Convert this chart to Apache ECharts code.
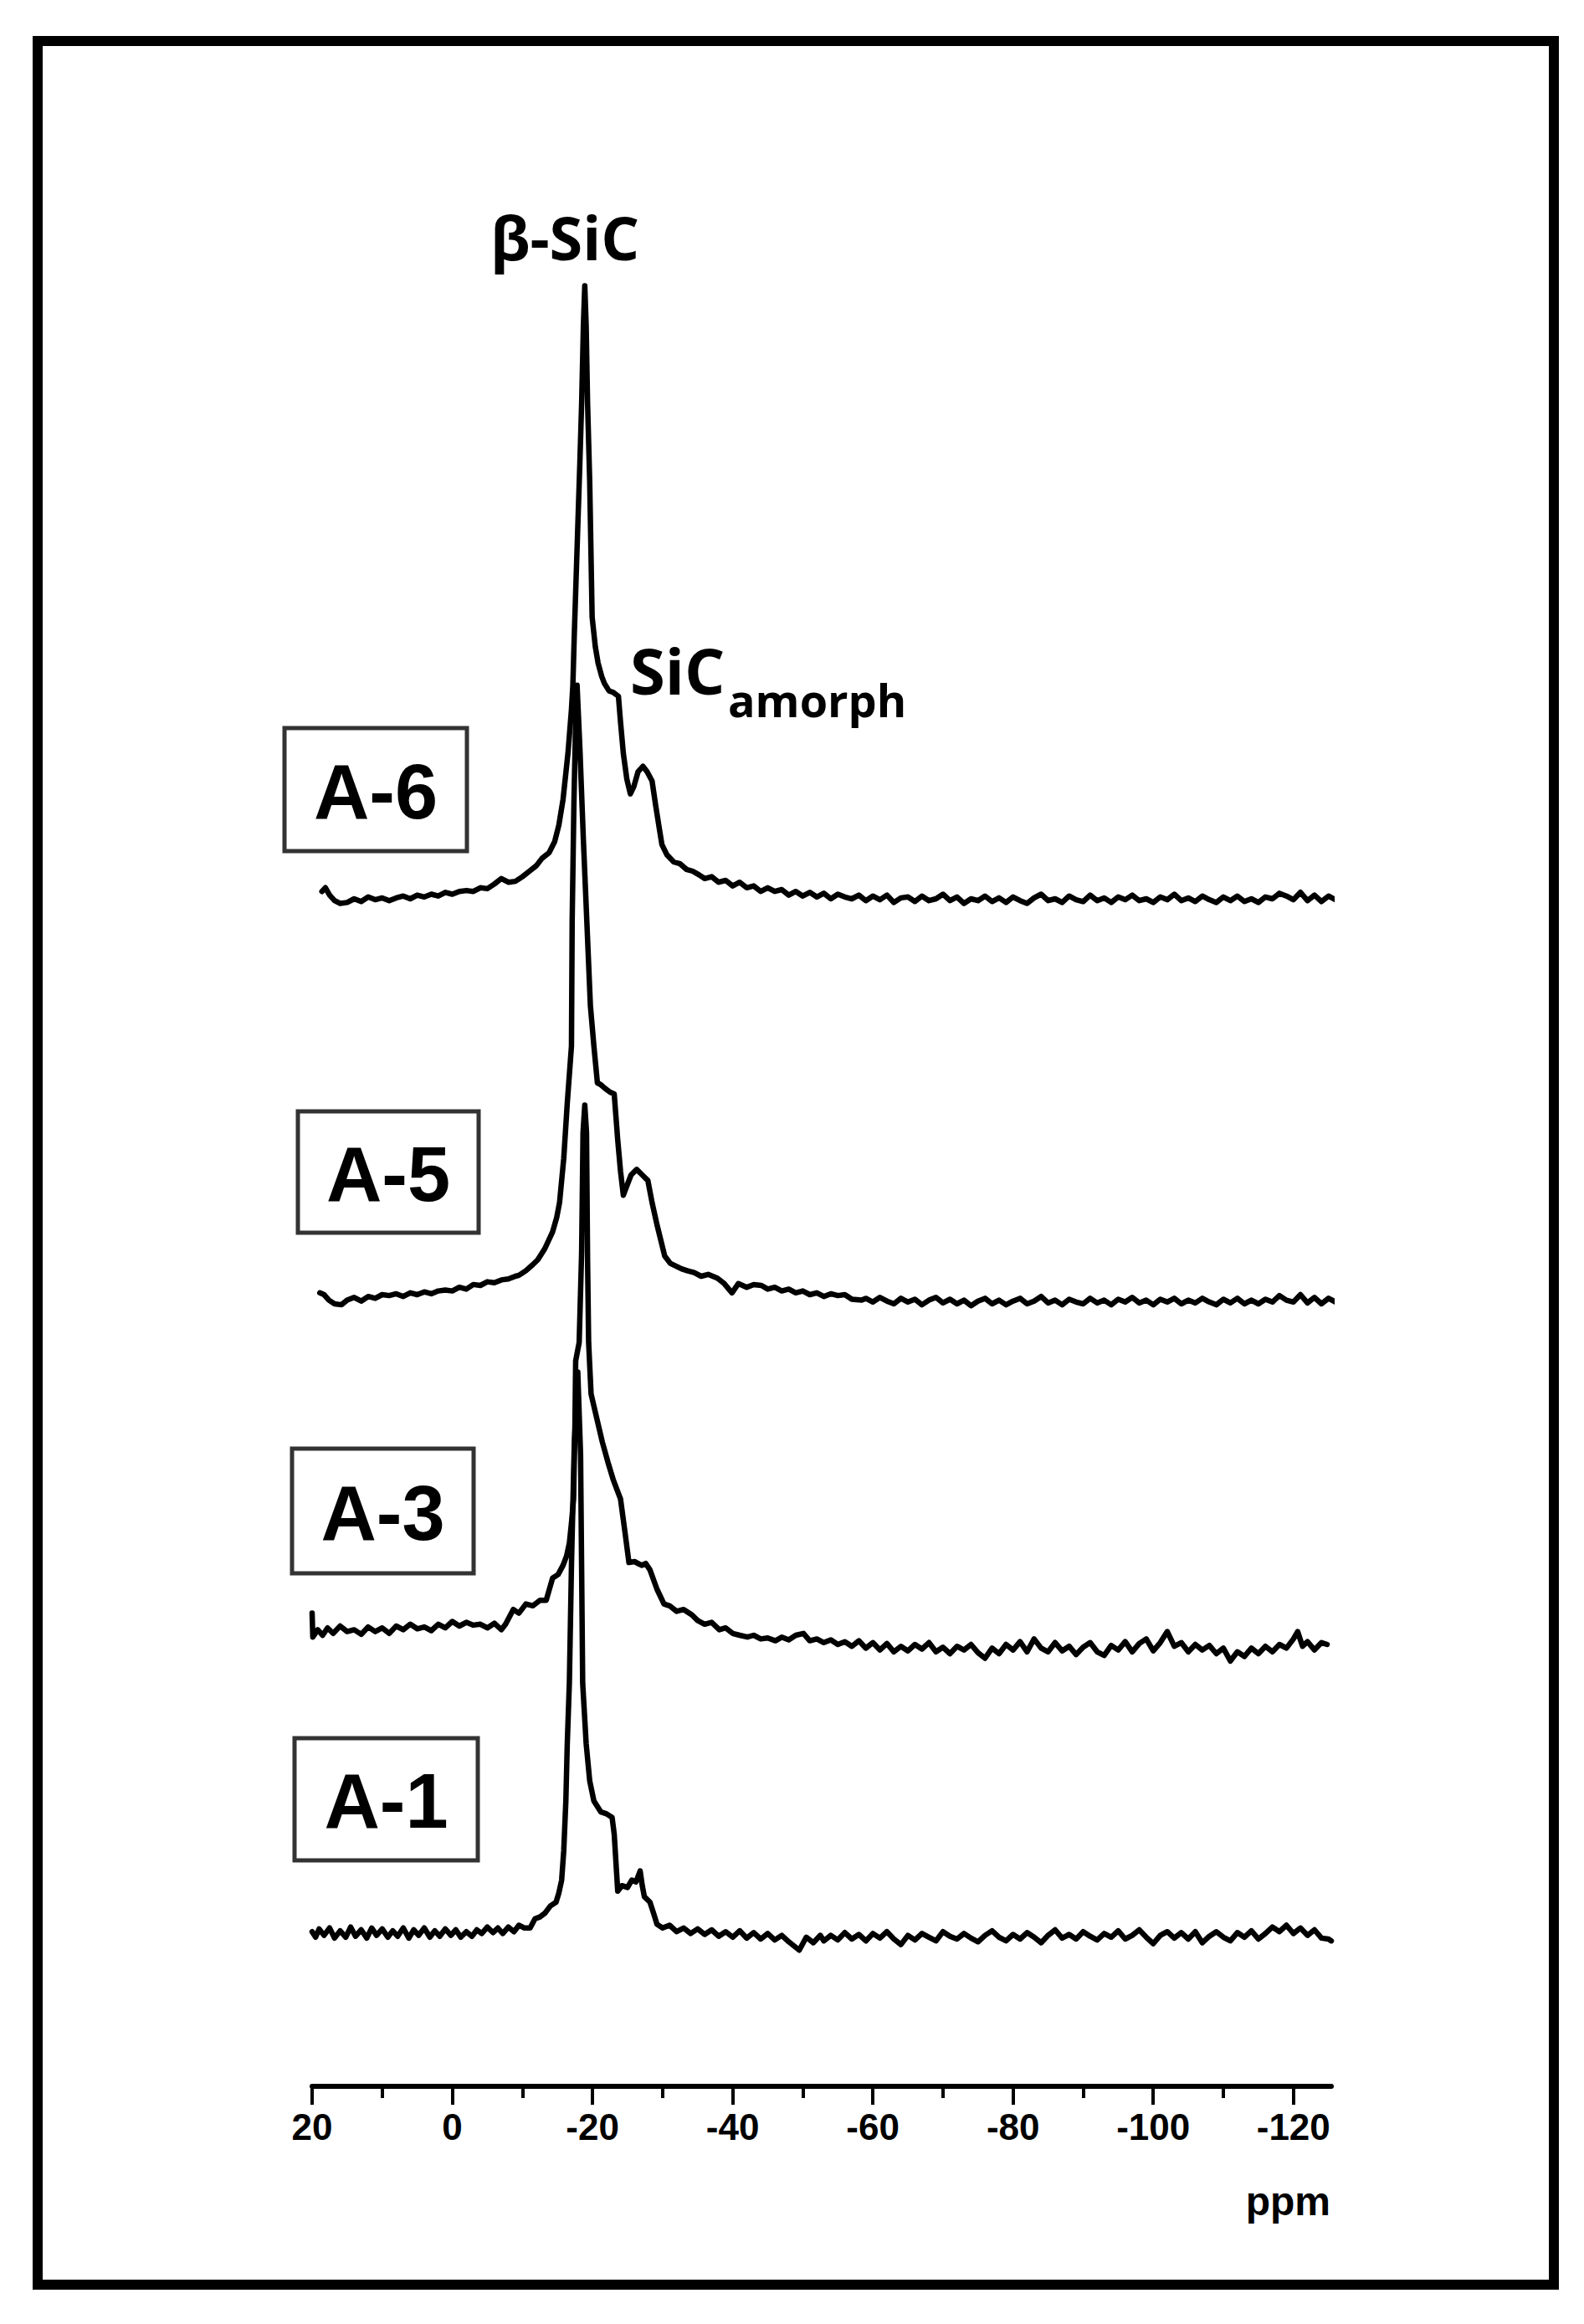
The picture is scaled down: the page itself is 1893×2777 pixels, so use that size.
<!DOCTYPE html>
<html>
<head>
<meta charset="utf-8">
<title>29Si MAS NMR spectra</title>
<script src="https://cdn.jsdelivr.net/npm/echarts@6/dist/echarts.min.js"></script>
<style>
  html, body { margin: 0; padding: 0; background: #fff; }
  #chart { width: 1893px; height: 2777px; }
</style>
</head>
<body>
<div id="chart"></div>
<script>
// samples from bottom to top
const samples = ["A-1", "A-3", "A-5", "A-6"];
// vertical stacking offset of each spectrum (a.u.)
const offsets = [8.3, 23.8, 42.7, 64.6];
const majorTicks = [20, 0, -20, -40, -60, -80, -100, -120];
const minorTicks = [10, -10, -30, -50, -70, -90, -110];

// [ppm, intensity above own baseline]
const a1 = [[20,0.1],[19.5,-0.2],[19,0.25],[18.3,-0.1],[17.5,0.3],[16.8,-0.25],[16,0.15],[15.2,-0.2],[14.5,0.35],[13.8,-0.15],[13,0.2],[12.2,-0.25],[11.5,0.3],[10.8,-0.1],[10,0.25],[9.2,-0.2],[8.5,0.15],[7.8,-0.15],[7,0.3],[6.2,-0.25],[5.5,0.2],[4.8,-0.1],[4,0.3],[3.2,-0.2],[2.5,0.15],[1.8,-0.15],[1,0.25],[0.2,-0.1],[-0.5,0.2],[-1.2,-0.2],[-2,0.1],[-2.8,-0.15],[-3.5,0.2],[-4.2,0],[-5,0.35],[-5.8,0.05],[-6.5,0.3],[-7.2,0],[-8,0.35],[-8.8,0.1],[-9.5,0.45],[-10.3,0.3],[-11.1,0.3],[-11.8,0.8],[-12.5,0.9],[-13.2,1.1],[-14,1.5],[-14.8,1.7],[-15.2,2.2],[-15.6,2.9],[-15.9,4.5],[-16.2,7.2],[-16.4,10.3],[-16.7,13.6],[-17,20],[-17.4,26.5],[-17.9,30.5],[-18.3,26],[-18.6,13.6],[-19.1,10.3],[-19.6,8.3],[-20.2,7.2],[-21.2,6.6],[-22,6.5],[-22.8,6.3],[-23.1,5.4],[-23.6,2.3],[-24.2,2.6],[-25,2.5],[-25.6,2.9],[-26.2,2.8],[-26.8,3.4],[-27.1,2.6],[-27.4,2],[-28.2,1.7],[-28.8,1],[-29.2,0.5],[-30,0.3],[-31,0.45],[-32,0.1],[-33,0.3],[-34,0],[-35,0.25],[-36,-0.05],[-37,0.2],[-38,-0.15],[-39,0.1],[-40,-0.2],[-41,0.15],[-42,-0.25],[-43,0.05],[-44,-0.3],[-45,0],[-46,-0.35],[-47,-0.1],[-48,-0.45],[-49.5,-0.9],[-50.5,-0.2],[-51.5,-0.5],[-52.5,-0.1],[-53,-0.4],[-54,-0.1],[-55,-0.35],[-56,0.05],[-57,-0.3],[-58,-0.05],[-59,-0.4],[-60,0],[-61,-0.25],[-62,0.1],[-63,-0.3],[-64,-0.6],[-65,-0.1],[-66,-0.35],[-67,0],[-68,-0.2],[-69,-0.4],[-70,0.1],[-71,-0.15],[-72,-0.3],[-73,0],[-74,-0.25],[-75,-0.45],[-76,-0.1],[-77,0.15],[-78,-0.2],[-79,-0.4],[-80,-0.05],[-81,-0.3],[-82,0.05],[-83,-0.2],[-84,-0.5],[-85,-0.1],[-86,0.2],[-87,-0.25],[-88,-0.05],[-89,-0.3],[-90,0.1],[-91,-0.15],[-92,-0.35],[-93,0],[-94,-0.2],[-95,0.15],[-96,-0.3],[-97,-0.1],[-98,0.2],[-99,-0.2],[-100,-0.55],[-101,-0.1],[-102,0.1],[-103,-0.25],[-104,0.05],[-105,-0.3],[-106,0.1],[-107,-0.5],[-108,-0.15],[-109,0.1],[-110,-0.2],[-111,-0.4],[-112,0.05],[-113,-0.2],[-114,0.15],[-115,-0.3],[-116,0],[-117,0.35],[-118,0.1],[-119,0.45],[-120,0],[-121,0.3],[-122,-0.1],[-123,0.2],[-124,-0.25],[-125,-0.3],[-125.4,-0.4]];

const a3 = [[20,1.9],[19.9,0.6],[19.2,1],[18.5,0.7],[17.8,1.1],[17,0.8],[16,1.2],[15,0.9],[14,1],[13,0.75],[12,1.15],[11,0.9],[10,1.1],[9,0.8],[8,1.2],[7,1],[6,1.3],[5,1.05],[4,1.15],[3,0.95],[2,1.3],[1,1.1],[0,1.45],[-1,1.2],[-2,1.4],[-3,1.25],[-4,1.3],[-5,1.1],[-6,1.35],[-7,1],[-7.6,1.3],[-8.7,2.1],[-9.5,1.9],[-10.5,2.4],[-11.5,2.3],[-12.5,2.6],[-13.4,2.6],[-14.3,3.8],[-15.1,4],[-15.8,4.5],[-16.3,5],[-16.7,5.7],[-17,6.8],[-17.3,8.1],[-17.5,12.2],[-17.6,15.6],[-18.1,16.6],[-18.45,21.5],[-18.65,28],[-18.9,29.5],[-19.15,28],[-19.3,21],[-19.45,16.6],[-19.8,13.8],[-20.6,12.5],[-21.4,11.2],[-22.2,10.1],[-23,9.1],[-24,8.1],[-24.6,6.4],[-25.2,4.65],[-26,4.7],[-27,4.5],[-27.6,4.6],[-28.2,4.25],[-29.2,3.2],[-30.2,2.4],[-31,2.3],[-32,2],[-33,2.1],[-34.2,1.8],[-35,1.5],[-36,1.3],[-37,1.4],[-38.1,1],[-39,1.1],[-40,0.8],[-41,0.7],[-42.1,0.6],[-43,0.7],[-44,0.5],[-45,0.55],[-46.1,0.4],[-47,0.6],[-48,0.45],[-49,0.7],[-50.1,0.8],[-51,0.4],[-52,0.5],[-53,0.3],[-54,0.45],[-55,0.2],[-56,0.35],[-57,0.1],[-58,0.4],[-59,0],[-60,0.3],[-61,-0.1],[-62,0.25],[-63,-0.2],[-64,0.1],[-65,-0.15],[-66,0.2],[-67,-0.05],[-68,0.3],[-69,-0.2],[-70,0.05],[-71,-0.3],[-72,0.1],[-73,-0.1],[-74,0.2],[-75,-0.25],[-76,-0.55],[-77,0],[-78,-0.3],[-79,0.2],[-80,-0.1],[-81,0.35],[-82,-0.2],[-83,0.5],[-84,0],[-85,-0.2],[-86,0.3],[-87,-0.15],[-88,0.1],[-89,-0.35],[-90,0.05],[-91,0.3],[-92,-0.2],[-93,-0.4],[-94,0.15],[-95,-0.1],[-96,0.35],[-97,-0.2],[-98,0.25],[-99,0.5],[-100,-0.15],[-101,0.3],[-102,0.9],[-103,0.1],[-104,0.3],[-105,-0.2],[-106,0.2],[-107,-0.1],[-108,0.15],[-109,-0.3],[-110,0],[-111,-0.7],[-112,-0.2],[-113,-0.45],[-114,0],[-115,-0.3],[-116,0.1],[-117,-0.2],[-118,0.2],[-119,0],[-120,0.5],[-120.6,0.9],[-121.3,0.1],[-122,0.35],[-123,-0.1],[-124,0.3],[-124.8,0.2]];

const a5 = [[18.9,0.4],[18.3,0.3],[17.6,0],[16.8,-0.2],[15.8,-0.25],[15,0],[14,0.15],[13,-0.05],[12,0.2],[11,0.1],[10,0.3],[9,0.25],[8,0.35],[7,0.2],[6,0.4],[5,0.3],[4,0.45],[3,0.35],[2,0.5],[1,0.55],[0,0.5],[-1,0.7],[-2,0.6],[-3,0.85],[-4,0.8],[-5,1],[-6,0.95],[-7,1.1],[-8,1.15],[-9,1.3],[-9.5,1.35],[-10.5,1.6],[-11.4,1.9],[-12.2,2.2],[-13.2,2.8],[-14.3,3.7],[-14.9,4.5],[-15.3,5.3],[-15.9,7.7],[-16.4,10.7],[-17,13.8],[-17.1,20.6],[-17.35,27],[-17.6,31.5],[-17.8,33.4],[-18.2,30],[-18.7,25],[-19.2,20.5],[-19.7,16],[-20.2,13.8],[-20.7,11.8],[-21.2,11.7],[-21.8,11.5],[-22.5,11.3],[-23.1,11.2],[-23.6,8.7],[-24,7],[-24.4,5.7],[-24.9,6.2],[-25.5,6.8],[-26.3,7.1],[-27.1,6.8],[-27.9,6.5],[-28.5,5.3],[-29.2,4.1],[-30.3,2.4],[-31.1,2],[-31.9,1.85],[-32.7,1.7],[-33.5,1.6],[-34.5,1.5],[-35.5,1.3],[-36.5,1.4],[-37.8,1.2],[-38.8,0.9],[-39.9,0.4],[-40.8,0.9],[-42,0.7],[-43,0.85],[-44.1,0.8],[-45,0.6],[-46,0.7],[-47,0.5],[-48,0.6],[-49,0.4],[-50,0.5],[-51,0.3],[-52,0.4],[-53,0.2],[-54,0.35],[-55,0.25],[-56,0.3],[-57,0.05],[-58.4,0],[-59,0.1],[-60,-0.1],[-61,0.15],[-62,-0.05],[-63,-0.2],[-64,0.1],[-65,-0.1],[-66,0.05],[-67,-0.25],[-68,0],[-69,0.15],[-70,-0.15],[-71,0.05],[-72,-0.2],[-73,0],[-74,-0.3],[-75,-0.05],[-76,0.1],[-77,-0.2],[-78,0],[-79,-0.25],[-80,-0.05],[-81,0.1],[-82,-0.2],[-83,-0.05],[-84,0.2],[-85,-0.15],[-86,0],[-87,-0.25],[-88,0.05],[-89,-0.1],[-90,-0.2],[-91,0.1],[-92,-0.15],[-93,0],[-94,-0.25],[-95,0.05],[-96,-0.1],[-97,0.15],[-98,-0.15],[-99,0],[-100,-0.25],[-101,0.05],[-102,-0.1],[-103,0.1],[-104,-0.2],[-105,0],[-106,-0.15],[-107,0.1],[-108,-0.1],[-109,-0.25],[-110,0.05],[-111,-0.15],[-112,0.1],[-113,-0.2],[-114,0],[-115,-0.2],[-116,0.05],[-117,-0.1],[-118,0.25],[-119,0],[-120,-0.1],[-121,0.3],[-122,-0.15],[-123,0.15],[-124,-0.2],[-125,0.1],[-126,-0.1],[-126.5,0.05]];

const a6 = [[18.6,0.3],[18.1,0.5],[17.5,0.1],[16.8,-0.2],[16,-0.35],[15,-0.3],[14,-0.1],[13,-0.25],[12,0],[11,-0.15],[10,-0.05],[9,-0.2],[8,-0.05],[7,0.05],[6,-0.1],[5,0.1],[4,0],[3,0.15],[2,0.05],[1,0.25],[0,0.15],[-1,0.3],[-2,0.35],[-3,0.3],[-4,0.5],[-5,0.45],[-6,0.7],[-7,1],[-8,0.8],[-9,0.85],[-10,1.1],[-11,1.4],[-12,1.7],[-12.8,2.1],[-13.8,2.4],[-14.6,3],[-15.2,3.9],[-15.8,5.3],[-16.5,7.8],[-17,10.2],[-17.2,11.5],[-17.4,14.2],[-17.9,20.1],[-18.2,23.6],[-18.45,26.8],[-18.7,31],[-18.9,33.2],[-19.1,31],[-19.3,26.8],[-19.6,22.6],[-19.95,15.2],[-20.4,13.6],[-20.8,12.7],[-21.3,12],[-21.7,11.6],[-22.35,11.2],[-23,11.1],[-23.7,10.9],[-24,9.5],[-24.4,7.8],[-24.9,6.4],[-25.4,5.6],[-25.9,6],[-26.5,6.8],[-27.2,7.1],[-27.8,6.8],[-28.5,6.3],[-29,5],[-29.5,3.8],[-29.9,2.85],[-30.6,2.3],[-31.6,1.9],[-32.5,1.8],[-33.4,1.5],[-34.3,1.4],[-35.2,1.2],[-36,1],[-37,1.1],[-38,0.8],[-39,0.9],[-40,0.6],[-41,0.8],[-42,0.5],[-43,0.6],[-44,0.3],[-45,0.5],[-46,0.3],[-47,0.4],[-48,0.1],[-49,0.3],[-50,0.05],[-51,0.25],[-52,0],[-53,0.2],[-54,-0.1],[-55,0.15],[-56,0],[-57,-0.1],[-58,0.1],[-59,-0.2],[-60,0.05],[-61,-0.15],[-62,0.1],[-63,-0.3],[-64,-0.05],[-65,0],[-66,-0.25],[-67,0.05],[-68,-0.2],[-69,-0.1],[-70,0.15],[-71,-0.2],[-72,0],[-73,-0.35],[-74,-0.1],[-75,-0.2],[-76,0.05],[-77,-0.25],[-78,-0.05],[-79,-0.3],[-80,0],[-81,-0.2],[-82,-0.35],[-83,-0.05],[-84,0.15],[-85,-0.2],[-86,-0.1],[-87,-0.3],[-88,0.05],[-89,-0.15],[-90,-0.25],[-91,0.1],[-92,-0.2],[-93,-0.05],[-94,-0.3],[-95,0],[-96,-0.15],[-97,0.1],[-98,-0.2],[-99,-0.1],[-100,-0.3],[-101,0],[-102,-0.15],[-103,0.15],[-104,-0.2],[-105,-0.05],[-106,-0.25],[-107,0.05],[-108,-0.15],[-109,-0.3],[-110,0],[-111,-0.2],[-112,0.05],[-113,-0.25],[-114,-0.1],[-115,-0.3],[-116,0],[-117,-0.1],[-118,0.2],[-119,0.05],[-120,-0.15],[-121,0.25],[-122,-0.2],[-123,0.1],[-124,-0.25],[-125,0.05],[-126,-0.15],[-126.8,0]];

const traces = [a1, a3, a5, a6];

const chart = echarts.init(document.getElementById("chart"), null, { renderer: "svg" });

const tickFont = {
  fontFamily: "'Liberation Sans Narrow', 'Liberation Sans', Arial, sans-serif",
  fontWeight: "bold",
  fontSize: 44,
  color: "#000"
};

// sample label boxes (pixel layout)
const boxes = [
  { name: "A-1", x: 352, y: 2077, w: 219, h: 146 },
  { name: "A-3", x: 349, y: 1731, w: 217, h: 149 },
  { name: "A-5", x: 356, y: 1328, w: 216, h: 145 },
  { name: "A-6", x: 340, y: 870, w: 218, h: 147 }
];

const graphics = [
  {
    type: "rect",
    shape: { x: 45, y: 49, width: 1812, height: 2681 },
    style: { fill: "none", stroke: "#000", lineWidth: 12 },
    silent: true
  }
];
boxes.forEach((b) => {
  graphics.push({
    type: "rect",
    shape: { x: b.x, y: b.y, width: b.w, height: b.h },
    style: { fill: "#fff", stroke: "#333", lineWidth: 5 },
    z: 10
  });
  graphics.push({
    type: "text",
    x: b.x + b.w / 2,
    y: b.y + b.h / 2 + 2,
    style: {
      text: b.name,
      fontFamily: "'Liberation Sans', Arial, sans-serif",
      fontWeight: "bold",
      fontSize: 92,
      fill: "#000",
      align: "center",
      verticalAlign: "middle",
      textAlign: "center",
      textVerticalAlign: "middle"
    },
    z: 11
  });
});
// peak assignments
const peakFont = "'Open Sans', 'Noto Sans', 'DejaVu Sans', sans-serif";
graphics.push(
  {
    type: "text",
    x: 675,
    y: 283,
    style: { text: "β-SiC", fontFamily: peakFont, fontWeight: "bold", fontSize: 72, fill: "#000",
      align: "center", verticalAlign: "middle", textAlign: "center", textVerticalAlign: "middle" }
  },
  {
    type: "text",
    x: 753,
    y: 800,
    style: { text: "SiC", fontFamily: peakFont, fontWeight: "bold", fontSize: 76, fill: "#000",
      align: "left", verticalAlign: "middle", textAlign: "left", textVerticalAlign: "middle" }
  },
  {
    type: "text",
    x: 870,
    y: 836,
    style: { text: "amorph", fontFamily: peakFont, fontWeight: "bold", fontSize: 54, fill: "#000",
      align: "left", verticalAlign: "middle", textAlign: "left", textVerticalAlign: "middle" }
  },
  {
    type: "text",
    x: 1590,
    y: 2630,
    style: { text: "ppm", fontFamily: "'Liberation Sans', Arial, sans-serif", fontWeight: "bold", fontSize: 48, fill: "#000",
      align: "right", verticalAlign: "middle", textAlign: "right", textVerticalAlign: "middle" }
  }
);

const option = {
  backgroundColor: "#fff",
  animation: false,
  grid: { left: 373, right: 302, top: 293, bottom: 284, containLabel: false },
  xAxis: [
    {
      type: "value",
      min: -125.4,
      max: 20,
      inverse: true,
      position: "bottom",
      axisLine: { show: true, onZero: false, lineStyle: { color: "#000", width: 6 } },
      axisTick: { show: true, customValues: majorTicks, length: 22, lineStyle: { color: "#000", width: 4 } },
      axisLabel: { show: true, customValues: majorTicks, margin: 26, ...tickFont },
      splitLine: { show: false }
    },
    {
      type: "value",
      min: -125.4,
      max: 20,
      inverse: true,
      position: "bottom",
      axisLine: { show: false, onZero: false },
      axisTick: { show: true, customValues: minorTicks, length: 14, lineStyle: { color: "#000", width: 4 } },
      axisLabel: { show: false },
      splitLine: { show: false }
    }
  ],
  yAxis: {
    type: "value",
    min: 0,
    max: 100,
    show: false
  },
  graphic: { elements: graphics },
  series: samples.map((name, i) => ({
    name: name,
    type: "line",
    xAxisIndex: 0,
    data: traces[i].map((p) => [p[0], p[1] + offsets[i]]),
    showSymbol: false,
    symbol: "none",
    clip: false,
    silent: true,
    lineStyle: { color: "#000", width: 6.5, join: "round", cap: "round" },
    z: 5
  }))
};

chart.setOption(option);
</script>
</body>
</html>
